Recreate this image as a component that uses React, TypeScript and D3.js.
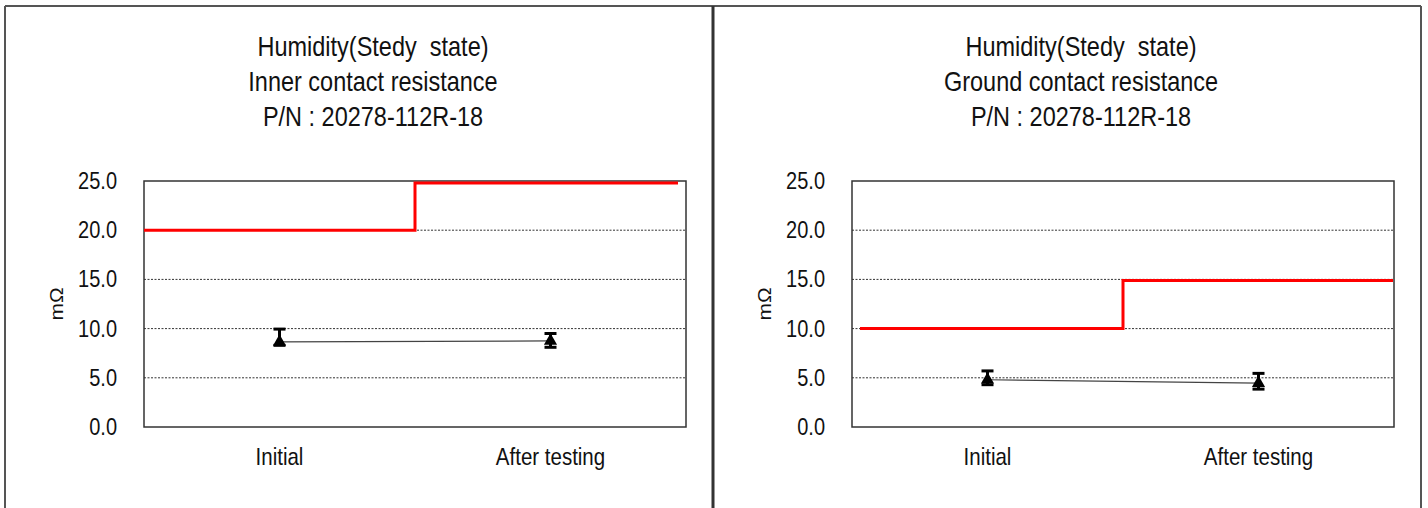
import React from 'react'
import * as d3 from 'd3'

const categories = ['Initial', 'After testing']
const yTicks = [0, 5, 10, 15, 20, 25]

const innerMean = [8.65, 8.75]
const innerMax = [9.95, 9.5]
const innerMin = [8.3, 8.1]
const innerLimit = [20.0, 24.8]

const groundMean = [4.8, 4.45]
const groundMax = [5.7, 5.45]
const groundMin = [4.3, 3.85]
const groundLimit = [10.0, 14.9]

const W = 1428
const H = 508
const FONT = '"Liberation Sans", Arial, sans-serif'

// text in the original is slightly stretched vertically
function Txt({ x, y, size, anchor = 'middle', children }: any) {
  return (
    <text transform={`translate(${x},${y}) scale(1,1.15)`} textAnchor={anchor} fontSize={size}
      fill="#111" style={{ whiteSpace: 'pre' }}>
      {children}
    </text>
  )
}

type ChartProps = {
  left: number
  titles: string[]
  mean: number[]
  max: number[]
  min: number[]
  limit: number[]
  limitStart: number
  limitEnd: number
}

function Chart({ left, titles, mean, max, min, limit, limitStart, limitEnd }: ChartProps) {
  const plotLeft = left + 139
  const plotRight = left + 681
  const x = d3.scaleBand().domain(categories).range([plotLeft, plotRight])
  const y = d3.scaleLinear().domain([0, 25]).range([427, 181])
  const cx = (c: string) => (x(c) as number) + x.bandwidth() / 2

  const limitPts: [number, number][] = [
    [plotLeft + limitStart, limit[0]],
    [cx(categories[0]), limit[0]],
    [cx(categories[1]), limit[1]],
    [plotRight - limitEnd, limit[1]],
  ]
  const stepLine = d3
    .line<[number, number]>()
    .x(d => d[0])
    .y(d => y(d[1]))
    .curve(d3.curveStep)

  const meanLine = d3
    .line<number>()
    .x((_, i) => cx(categories[i]))
    .y(d => y(d))

  const tri = d3.symbol().type(d3.symbolTriangle).size(75)()
  const titleX = left + 368

  return (
    <g fontFamily={FONT}>
      {titles.map((t, i) => (
        <Txt key={t} x={titleX} y={56 + i * 35} size={23.5}>{t}</Txt>
      ))}
      {yTicks.slice(1, -1).map(t => (
        <line key={t} x1={plotLeft} x2={plotRight} y1={y(t)} y2={y(t)}
          stroke="#333" strokeWidth={1} strokeDasharray="2,1.5" />
      ))}
      <rect x={plotLeft} y={y(25)} width={plotRight - plotLeft} height={y(0) - y(25)}
        fill="none" stroke="#333" strokeWidth={1.5} />
      {yTicks.map(t => (
        <Txt key={t} x={plotLeft - 27} y={y(t) + 8} size={20} anchor="end">{t.toFixed(1)}</Txt>
      ))}
      <text transform={`translate(${left + 58},${(y(0) + y(25)) / 2}) rotate(-90) scale(1.1,1)`}
        textAnchor="middle" fontSize={19} fill="#111" fontFamily={FONT}>mΩ</text>
      {categories.map(c => (
        <Txt key={c} x={cx(c)} y={465} size={20.5}>{c}</Txt>
      ))}
      <path d={stepLine(limitPts) || ''} fill="none" stroke="#ff0000" strokeWidth={3} />
      <path d={meanLine(mean) || ''} fill="none" stroke="#444" strokeWidth={1.2} />
      {categories.map((c, i) => (
        <g key={c}>
          <line x1={cx(c)} x2={cx(c)} y1={y(max[i])} y2={y(min[i])} stroke="#000" strokeWidth={3} />
          <line x1={cx(c) - 6} x2={cx(c) + 6} y1={y(max[i])} y2={y(max[i])} stroke="#000" strokeWidth={3} />
          <line x1={cx(c) - 6} x2={cx(c) + 6} y1={y(min[i])} y2={y(min[i])} stroke="#000" strokeWidth={3} />
          <path d={tri || ''} transform={`translate(${cx(c)},${y(mean[i])})`} fill="#000" />
        </g>
      ))}
    </g>
  )
}

export default function App() {
  return (
    <div style={{ position: 'absolute', left: 0, top: 0 }}>
      <svg width={W} height={H} style={{ display: 'block', background: '#fff' }}>
        <line x1={5} x2={1421} y1={6} y2={6} stroke="#555" strokeWidth={2} />
        <line x1={5} x2={5} y1={6} y2={H} stroke="#555" strokeWidth={2} />
        <line x1={713} x2={713} y1={6} y2={H} stroke="#333" strokeWidth={3} />
        <line x1={1421} x2={1421} y1={6} y2={H} stroke="#555" strokeWidth={2} />
        <Chart left={5} titles={['Humidity(Stedy  state)', 'Inner contact resistance', 'P/N : 20278-112R-18']}
          mean={innerMean} max={innerMax} min={innerMin} limit={innerLimit} limitStart={0} limitEnd={8} />
        <Chart left={713} titles={['Humidity(Stedy  state)', 'Ground contact resistance', 'P/N : 20278-112R-18']}
          mean={groundMean} max={groundMax} min={groundMin} limit={groundLimit} limitStart={8} limitEnd={1} />
      </svg>
    </div>
  )
}
